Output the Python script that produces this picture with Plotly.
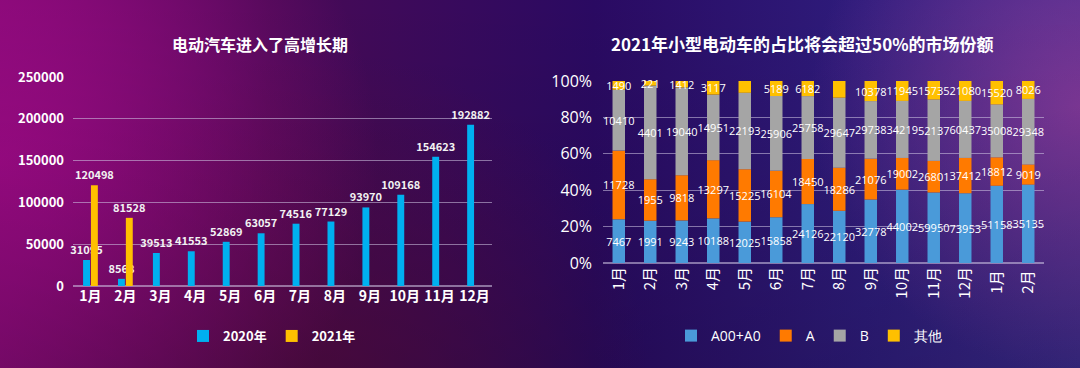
import base64
import plotly.graph_objects as go

# ---------- data ----------
months_left = ["1月", "2月", "3月", "4月", "5月", "6月", "7月", "8月", "9月", "10月", "11月", "12月"]
sales_2020 = [31095, 8568, 39513, 41553, 52869, 63057, 74516, 77129, 93970, 109168, 154623, 192882]
sales_2021 = [120498, 81528, None, None, None, None, None, None, None, None, None, None]
left_ticks = [0, 50000, 100000, 150000, 200000, 250000]

months_right = ["1月", "2月", "3月", "4月", "5月", "6月", "7月", "8月", "9月", "10月", "11月", "12月", "1月 ", "2月 "]
seg_a00 = [7467, 1991, 9243, 10188, 12025, 15858, 24126, 22120, 32778, 44002, 59950, 73953, 51158, 35135]
seg_a = [11728, 1955, 9818, 13297, 15225, 16104, 18450, 18286, 21076, 19002, 26801, 37412, 18812, 9019]
seg_b = [10410, 4401, 19040, 14951, 22193, 25906, 25758, 29647, 29738, 34219, 52137, 60437, 35008, 29348]
seg_other = [1490, 221, 1412, 3117, 3426, 5189, 6182, 7076, 10378, 11945, 15735, 21080, 15520, 8026]
pct_ticks = [0, 20, 40, 60, 80, 100]

FONT = "Noto Sans CJK SC"
WHITE = "#ffffff"

fig = go.Figure()

# ---------- left chart (grouped) ----------
for name, vals, col in [("2020年", sales_2020, "#00b0f0"), ("2021年", sales_2021, "#ffc000")]:
    fig.add_trace(go.Bar(
        x=months_left, y=vals, name=f"<b>{name}</b>", marker=dict(color=col, line=dict(width=0)),
        text=[f"<b>{v}</b>" if v is not None else "" for v in vals], textposition="outside",
        textfont=dict(family=FONT, size=11, color="#f2f2f2"), constraintext="none",
        cliponaxis=False, xaxis="x", yaxis="y", legend="legend", offsetgroup=name,
    ))

# ---------- right chart (100% stacked, computed from the data) ----------
totals = [a + b + c + d for a, b, c, d in zip(seg_a00, seg_a, seg_b, seg_other)]
cum = [0.0] * len(totals)
for name, vals, col in [("A00+A0", seg_a00, "#4a9ad9"), ("A", seg_a, "#ff7a00"),
                        ("B", seg_b, "#a5a5a5"), ("其他", seg_other, "#ffc000")]:
    pct = [v / t * 100 for v, t in zip(vals, totals)]
    fig.add_trace(go.Bar(
        x=months_right, y=pct, base=list(cum), name=name,
        marker=dict(color=col, line=dict(width=0)),
        text=[str(v) for v in vals], textposition="inside", insidetextanchor="middle",
        textangle=0, constraintext="none",
        textfont=dict(family="Open Sans", size=11, color=WHITE),
        cliponaxis=False, xaxis="x2", yaxis="y2", legend="legend2", offsetgroup="stack",
        hovertemplate="%{x} " + name + ": %{text}<extra></extra>",
    ))
    cum = [c + p for c, p in zip(cum, pct)]

# ---------- background gradient ----------
svg = """<svg xmlns='http://www.w3.org/2000/svg' width='1080' height='368' viewBox='0 0 1080 368' preserveAspectRatio='none'>
<defs>
<linearGradient id='g' x1='0' y1='0' x2='1' y2='0'>
<stop offset='0' stop-color='#7a0a6e'/>
<stop offset='0.25' stop-color='#4a0a55'/>
<stop offset='0.55' stop-color='#2a0a62'/>
<stop offset='0.8' stop-color='#2e1c7c'/>
<stop offset='1' stop-color='#3a2a8a'/>
</linearGradient>
<radialGradient id='r1' cx='0' cy='0.15' r='0.35' gradientTransform='scale(1,2.9)'>
<stop offset='0' stop-color='#a00a88' stop-opacity='0.9'/>
<stop offset='1' stop-color='#a00a88' stop-opacity='0'/>
</radialGradient>
<radialGradient id='r2' cx='1' cy='0.1' r='0.25' gradientTransform='scale(1,2.9)'>
<stop offset='0' stop-color='#8a3a9a' stop-opacity='0.85'/>
<stop offset='1' stop-color='#8a3a9a' stop-opacity='0'/>
</radialGradient>
<radialGradient id='r3' cx='0.3' cy='0.35' r='0.3' gradientTransform='scale(1,2.9)'>
<stop offset='0' stop-color='#5a0a3a' stop-opacity='0.6'/>
<stop offset='1' stop-color='#5a0a3a' stop-opacity='0'/>
</radialGradient>
<linearGradient id='v' x1='0' y1='0' x2='0' y2='1'>
<stop offset='0' stop-color='#000000' stop-opacity='0'/>
<stop offset='1' stop-color='#000000' stop-opacity='0.15'/>
</linearGradient>
</defs>
<rect width='1080' height='368' fill='url(#g)'/>
<rect width='1080' height='368' fill='url(#r3)'/>
<rect width='1080' height='368' fill='url(#r1)'/>
<rect width='1080' height='368' fill='url(#r2)'/>
<rect width='1080' height='368' fill='url(#v)'/>
</svg>"""
bg = "data:image/svg+xml;base64," + base64.b64encode(svg.encode()).decode()

grid = "rgba(210,200,230,0.55)"

fig.update_layout(
    width=1080, height=368,
    margin=dict(l=0, r=0, t=0, b=0, autoexpand=False),
    paper_bgcolor="#2a0a60", plot_bgcolor="rgba(0,0,0,0)",
    barmode="group", bargap=0.55, bargroupgap=0.12,
    font=dict(family=FONT, color=WHITE),
    showlegend=True,
    images=[dict(source=bg, xref="paper", yref="paper", x=0, y=1, sizex=1, sizey=1,
                 sizing="stretch", layer="below", xanchor="left", yanchor="top")],
    xaxis=dict(domain=[73 / 1080, 492 / 1080], anchor="y", showgrid=False, showline=False,
               tickfont=dict(family=FONT, size=14, color=WHITE), ticks="", automargin=False,
               tickvals=months_left, ticktext=[f"<b>{m}</b>" for m in months_left]),
    yaxis=dict(domain=[82 / 368, 291 / 368], anchor="x", range=[0, 250000], tickvals=left_ticks,
               ticktext=[f"<b>{v}</b>" for v in left_ticks], showgrid=True, gridcolor=grid, gridwidth=1,
               zeroline=True, zerolinecolor=grid, showline=False, ticks="", ticklen=0, automargin=False,
               tickfont=dict(family=FONT, size=13, color=WHITE), ticklabelstandoff=8),
    xaxis2=dict(domain=[603 / 1080, 1044 / 1080], anchor="y2", showgrid=False, showline=False,
                tickangle=-90, ticks="", automargin=False,
                tickfont=dict(family=FONT, size=15, color=WHITE)),
    yaxis2=dict(domain=[105 / 368, 287 / 368], anchor="x2", range=[0, 100],
                tickvals=pct_ticks, ticktext=[f"{v}%" for v in pct_ticks], showgrid=True,
                gridcolor=grid, zeroline=True, zerolinecolor=grid, ticks="", automargin=False,
                tickfont=dict(family="Open Sans", size=16, color=WHITE), ticklabelstandoff=10),
    legend=dict(orientation="h", x=272 / 1080, y=32 / 368, xanchor="center", yanchor="middle",
                font=dict(family=FONT, size=13, color=WHITE), bgcolor="rgba(0,0,0,0)",
                itemwidth=30, traceorder="normal"),
    legend2=dict(orientation="h", x=809 / 1080, y=32 / 368, xanchor="center", yanchor="middle",
                 font=dict(family="Open Sans", size=14, color=WHITE), bgcolor="rgba(0,0,0,0)",
                 itemwidth=30, traceorder="normal"),
    annotations=[
        dict(text="<b>电动汽车进入了高增长期</b>", xref="paper", yref="paper", x=260 / 1080, y=(368 - 44) / 368,
             showarrow=False, font=dict(family=FONT, size=16, color=WHITE), xanchor="center", yanchor="middle"),
        dict(text="<b>2021年小型电动车的占比将会超过50%的市场份额</b>", xref="paper", yref="paper",
             x=802 / 1080, y=(368 - 44) / 368, showarrow=False,
             font=dict(family=FONT, size=17, color=WHITE), xanchor="center", yanchor="middle"),
    ],
)

fig.write_html("out.html", config={"displayModeBar": False},
               post_script="document.body.style.margin='0';document.body.style.overflow='hidden';")
